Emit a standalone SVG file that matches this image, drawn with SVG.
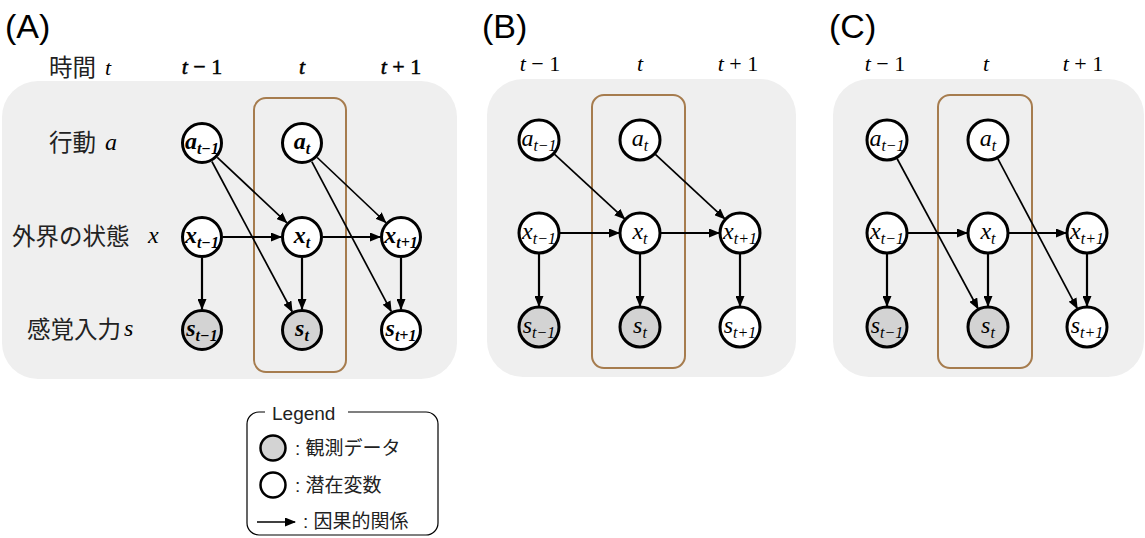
<svg xmlns="http://www.w3.org/2000/svg" width="1145" height="538" viewBox="0 0 1145 538">
<defs>
<style>
.panel{fill:#efefef;stroke:none}
.frame{fill:none;stroke:#a67c4e;stroke-width:2}
.nd{fill:#fff;stroke:#000;stroke-width:3}
.obs{fill:#d3d3d3}
.lbl{font-family:"Liberation Serif",serif;font-style:italic;font-size:24px;fill:#000}
.sub{font-size:16px}
.bold{font-weight:bold}
.jp{font-family:"Noto Sans CJK JP",sans-serif;font-size:23.5px;fill:#222}
.col{font-family:"Liberation Serif",serif;font-size:22px;fill:#000}
.heavy{stroke:#000;stroke-width:0.5}
.pl{font-family:"Liberation Sans",sans-serif;font-size:34px;fill:#000}
.leg{font-family:"Liberation Sans","Noto Sans CJK JP",sans-serif;font-size:19px;fill:#222}
.e{stroke:#000;stroke-width:1.7;fill:none;marker-end:url(#ah)}
.s{stroke:#000;stroke-width:2.2;fill:none;marker-end:url(#ah)}
</style>
<marker id="ah" markerUnits="userSpaceOnUse" markerWidth="11" markerHeight="9" refX="10" refY="4.5" orient="auto">
<path d="M0,0 L11,4.5 L0,9 z" fill="#000"/>
</marker>
</defs>

<!-- panel labels -->
<text class="pl" x="5" y="38">(A)</text>
<text class="pl" x="482" y="38">(B)</text>
<text class="pl" x="829" y="38">(C)</text>

<!-- backgrounds -->
<rect class="panel" x="2" y="81" width="455" height="298" rx="36"/>
<rect class="panel" x="487" y="79" width="309" height="298" rx="36"/>
<rect class="panel" x="833" y="79" width="311" height="298" rx="36"/>
<rect class="frame" x="254" y="98" width="92" height="274" rx="12"/>
<rect class="frame" x="592" y="95" width="93" height="273" rx="12"/>
<rect class="frame" x="938" y="95" width="94" height="273" rx="12"/>

<!-- headings A -->
<text class="jp" x="49" y="76">時間</text>
<text class="col" x="105" y="75" font-style="italic">t</text>
<text class="col heavy" x="202" y="74" text-anchor="middle"><tspan font-style="italic">t</tspan> − 1</text>
<text class="col heavy" x="302" y="74" text-anchor="middle" font-style="italic">t</text>
<text class="col heavy" x="401" y="74" text-anchor="middle"><tspan font-style="italic">t</tspan> + 1</text>
<text class="jp" x="49" y="151">行動</text>
<text class="lbl" x="105" y="150">a</text>
<text class="jp" x="12" y="245">外界の状態</text>
<text class="lbl" x="148" y="243">x</text>
<text class="jp" x="27" y="338">感覚入力</text>
<text class="lbl" x="124" y="336">s</text>

<!-- headings B -->
<text class="col" x="540" y="71" text-anchor="middle"><tspan font-style="italic">t</tspan> − 1</text>
<text class="col" x="640" y="71" text-anchor="middle" font-style="italic">t</text>
<text class="col" x="738" y="71" text-anchor="middle"><tspan font-style="italic">t</tspan> + 1</text>
<!-- headings C -->
<text class="col" x="885" y="71" text-anchor="middle"><tspan font-style="italic">t</tspan> − 1</text>
<text class="col" x="986" y="71" text-anchor="middle" font-style="italic">t</text>
<text class="col" x="1083" y="71" text-anchor="middle"><tspan font-style="italic">t</tspan> + 1</text>

<!-- connectors -->
<g id="connectors">
<!-- A -->
<line class="e" x1="217.3" y1="157.4" x2="286.7" y2="222.6"/>
<line class="e" x1="211.9" y1="161.5" x2="292.1" y2="311.5"/>
<line class="e" x1="317.2" y1="157.5" x2="385.8" y2="222.5"/>
<line class="e" x1="311.8" y1="161.6" x2="391.2" y2="311.4"/>
<line class="s" x1="223" y1="237" x2="281" y2="237"/>
<line class="s" x1="323" y1="237" x2="380" y2="237"/>
<line class="s" x1="202" y1="258" x2="202" y2="309"/>
<line class="s" x1="302" y1="258" x2="302" y2="309"/>
<line class="s" x1="401" y1="258" x2="401" y2="309"/>
<!-- B -->
<line class="e" x1="554.4" y1="154.2" x2="624.6" y2="218.8"/>
<line class="e" x1="655.4" y1="154.3" x2="724.6" y2="218.7"/>
<line class="s" x1="560" y1="233" x2="619" y2="233"/>
<line class="s" x1="661" y1="233" x2="719" y2="233"/>
<line class="s" x1="539" y1="254" x2="539" y2="306"/>
<line class="s" x1="640" y1="254" x2="640" y2="306"/>
<line class="s" x1="740" y1="254" x2="740" y2="306"/>
<!-- C -->
<line class="e" x1="897" y1="158.5" x2="978" y2="308.5"/>
<line class="e" x1="997.8" y1="158.6" x2="1077.2" y2="308.4"/>
<line class="s" x1="908" y1="233" x2="967" y2="233"/>
<line class="s" x1="1009" y1="233" x2="1066" y2="233"/>
<line class="s" x1="887" y1="254" x2="887" y2="306"/>
<line class="s" x1="988" y1="254" x2="988" y2="306"/>
<line class="s" x1="1087" y1="254" x2="1087" y2="306"/>
</g>

<!-- nodes A -->
<g id="A_a_tm1"><circle class="nd" cx="202" cy="143" r="19.5"/><text class="lbl bold" x="202" y="149" text-anchor="middle">a<tspan class="sub" dy="5">t−1</tspan></text></g>
<g id="A_a_t"><circle class="nd" cx="302" cy="143" r="19.5"/><text class="lbl bold" x="302" y="149" text-anchor="middle">a<tspan class="sub" dy="5">t</tspan></text></g>
<g id="A_x_tm1"><circle class="nd" cx="202" cy="237" r="19.5"/><text class="lbl bold" x="202" y="243" text-anchor="middle">x<tspan class="sub" dy="5">t−1</tspan></text></g>
<g id="A_x_t"><circle class="nd" cx="302" cy="237" r="19.5"/><text class="lbl bold" x="302" y="243" text-anchor="middle">x<tspan class="sub" dy="5">t</tspan></text></g>
<g id="A_x_tp1"><circle class="nd" cx="401" cy="237" r="19.5"/><text class="lbl bold" x="401" y="243" text-anchor="middle">x<tspan class="sub" dy="5">t+1</tspan></text></g>
<g id="A_s_tm1"><circle class="nd obs" cx="202" cy="330" r="19.5"/><text class="lbl bold" x="202" y="336" text-anchor="middle">s<tspan class="sub" dy="5">t−1</tspan></text></g>
<g id="A_s_t"><circle class="nd obs" cx="302" cy="330" r="19.5"/><text class="lbl bold" x="302" y="336" text-anchor="middle">s<tspan class="sub" dy="5">t</tspan></text></g>
<g id="A_s_tp1"><circle class="nd" cx="401" cy="330" r="19.5"/><text class="lbl bold" x="401" y="336" text-anchor="middle">s<tspan class="sub" dy="5">t+1</tspan></text></g>

<!-- nodes B -->
<g id="B_a_tm1"><circle class="nd" cx="539" cy="140" r="20"/><text class="lbl" x="539" y="146" text-anchor="middle">a<tspan class="sub" dy="5">t−1</tspan></text></g>
<g id="B_a_t"><circle class="nd" cx="640" cy="140" r="20"/><text class="lbl" x="640" y="146" text-anchor="middle">a<tspan class="sub" dy="5">t</tspan></text></g>
<g id="B_x_tm1"><circle class="nd" cx="539" cy="233" r="20"/><text class="lbl" x="539" y="239" text-anchor="middle">x<tspan class="sub" dy="5">t−1</tspan></text></g>
<g id="B_x_t"><circle class="nd" cx="640" cy="233" r="20"/><text class="lbl" x="640" y="239" text-anchor="middle">x<tspan class="sub" dy="5">t</tspan></text></g>
<g id="B_x_tp1"><circle class="nd" cx="740" cy="233" r="20"/><text class="lbl" x="740" y="239" text-anchor="middle">x<tspan class="sub" dy="5">t+1</tspan></text></g>
<g id="B_s_tm1"><circle class="nd obs" cx="539" cy="327" r="20"/><text class="lbl" x="539" y="333" text-anchor="middle">s<tspan class="sub" dy="5">t−1</tspan></text></g>
<g id="B_s_t"><circle class="nd obs" cx="640" cy="327" r="20"/><text class="lbl" x="640" y="333" text-anchor="middle">s<tspan class="sub" dy="5">t</tspan></text></g>
<g id="B_s_tp1"><circle class="nd" cx="740" cy="327" r="20"/><text class="lbl" x="740" y="333" text-anchor="middle">s<tspan class="sub" dy="5">t+1</tspan></text></g>

<!-- nodes C -->
<g id="C_a_tm1"><circle class="nd" cx="887" cy="140" r="20"/><text class="lbl" x="887" y="146" text-anchor="middle">a<tspan class="sub" dy="5">t−1</tspan></text></g>
<g id="C_a_t"><circle class="nd" cx="988" cy="140" r="20"/><text class="lbl" x="988" y="146" text-anchor="middle">a<tspan class="sub" dy="5">t</tspan></text></g>
<g id="C_x_tm1"><circle class="nd" cx="887" cy="233" r="20"/><text class="lbl" x="887" y="239" text-anchor="middle">x<tspan class="sub" dy="5">t−1</tspan></text></g>
<g id="C_x_t"><circle class="nd" cx="988" cy="233" r="20"/><text class="lbl" x="988" y="239" text-anchor="middle">x<tspan class="sub" dy="5">t</tspan></text></g>
<g id="C_x_tp1"><circle class="nd" cx="1087" cy="233" r="20"/><text class="lbl" x="1087" y="239" text-anchor="middle">x<tspan class="sub" dy="5">t+1</tspan></text></g>
<g id="C_s_tm1"><circle class="nd obs" cx="887" cy="327" r="20"/><text class="lbl" x="887" y="333" text-anchor="middle">s<tspan class="sub" dy="5">t−1</tspan></text></g>
<g id="C_s_t"><circle class="nd obs" cx="988" cy="327" r="20"/><text class="lbl" x="988" y="333" text-anchor="middle">s<tspan class="sub" dy="5">t</tspan></text></g>
<g id="C_s_tp1"><circle class="nd" cx="1087" cy="327" r="20"/><text class="lbl" x="1087" y="333" text-anchor="middle">s<tspan class="sub" dy="5">t+1</tspan></text></g>

<!-- legend -->
<g id="legend">
<path d="M265,412 L259,412 A12,12 0 0 0 247,424 L247,523 A12,12 0 0 0 259,535 L426,535 A12,12 0 0 0 438,523 L438,424 A12,12 0 0 0 426,412 L348,412" fill="none" stroke="#000" stroke-width="1.2"/>
<text class="leg" x="272" y="420">Legend</text>
<circle cx="273" cy="448" r="12.5" fill="#d3d3d3" stroke="#000" stroke-width="2.5"/>
<text class="leg" x="295" y="455">: 観測データ</text>
<circle cx="273" cy="485" r="12.5" fill="#fff" stroke="#000" stroke-width="2.5"/>
<text class="leg" x="295" y="492">: 潜在変数</text>
<line x1="257" y1="522" x2="295" y2="522" stroke="#000" stroke-width="1.7" marker-end="url(#ah)"/>
<text class="leg" x="303" y="528">: 因果的関係</text>
</g>
</svg>
